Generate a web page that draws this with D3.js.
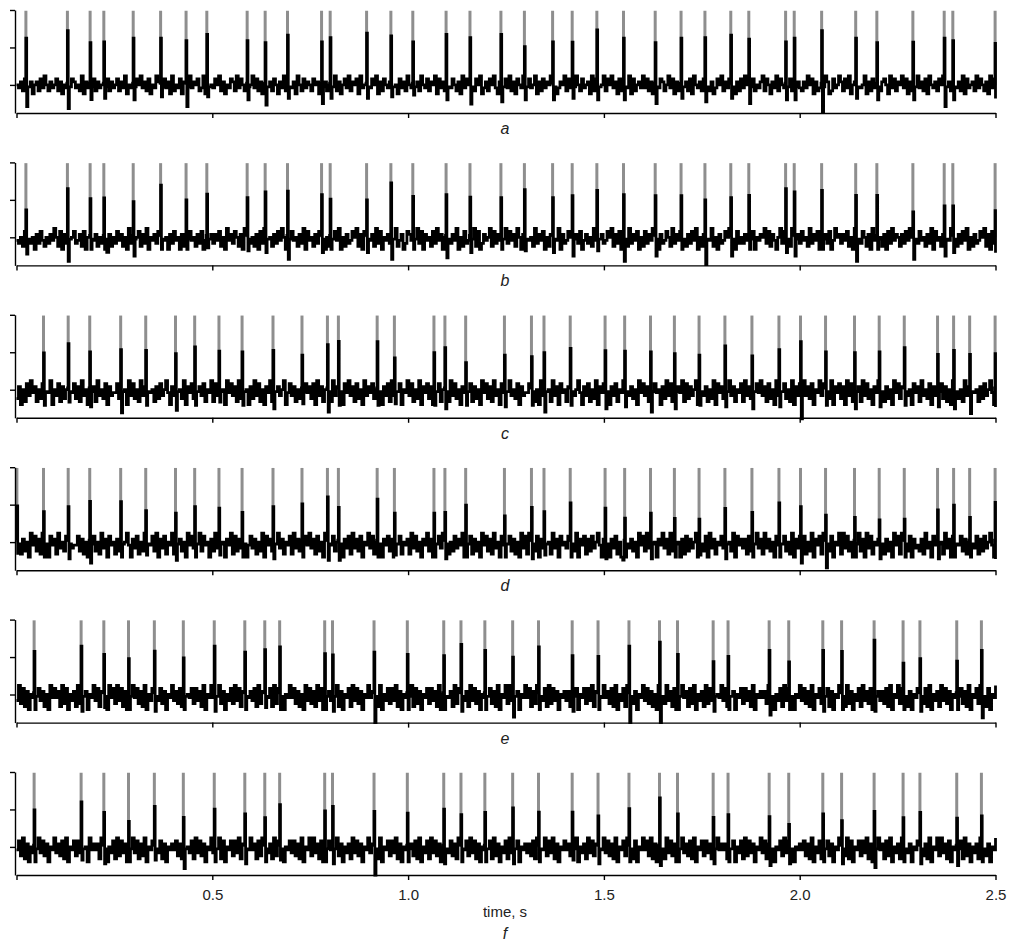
<!DOCTYPE html>
<html>
<head>
<meta charset="utf-8">
<script src="https://cdn.jsdelivr.net/npm/d3@7"></script>
<style>
  body { margin: 0; background: #fff; }
  text { font-family: "Liberation Sans", Arial, sans-serif; }
</style>
</head>
<body>
<div id="chart"></div>
<script>
// x axis ticks (seconds) and their labels, only the bottom panel shows labels
const tickValues = [0, 0.5, 1.0, 1.5, 2.0, 2.5];
const tickLabels = ["", "0.5", "1.0", "1.5", "2.0", "2.5"];
const yTicks = [0, 1, 2];
const panelLetters = ["a", "b", "c", "d", "e", "f"];

// spike times (s); a/b share them, c/d share them, e/f share them
const spikeTimesAB = [0.024, 0.130, 0.188, 0.223, 0.298, 0.368, 0.433, 0.486, 0.589, 0.635,
  0.692, 0.779, 0.801, 0.894, 0.956, 1.012, 1.097, 1.158, 1.237, 1.297,
  1.369, 1.419, 1.482, 1.550, 1.631, 1.697, 1.758, 1.824, 1.870, 1.964,
  1.986, 2.056, 2.143, 2.197, 2.289, 2.369, 2.391, 2.499];
const spikeTimesC = [0.069, 0.132, 0.187, 0.266, 0.330, 0.406, 0.455, 0.517, 0.576, 0.655,
  0.729, 0.794, 0.822, 0.921, 0.965, 1.066, 1.094, 1.147, 1.246, 1.315,
  1.347, 1.414, 1.503, 1.553, 1.619, 1.680, 1.743, 1.809, 1.878, 1.947,
  2.002, 2.066, 2.140, 2.203, 2.267, 2.352, 2.393, 2.434, 2.499];
const spikeTimesD = [0.001, 0.069, 0.132, 0.187, 0.266, 0.330, 0.406, 0.455, 0.517, 0.576, 0.655,
  0.729, 0.794, 0.822, 0.921, 0.965, 1.066, 1.094, 1.147, 1.246, 1.315,
  1.347, 1.414, 1.503, 1.553, 1.619, 1.680, 1.743, 1.809, 1.878, 1.947,
  2.002, 2.066, 2.140, 2.203, 2.267, 2.352, 2.393, 2.434, 2.499];
const spikeTimesEF = [0.045, 0.165, 0.223, 0.286, 0.352, 0.426, 0.505, 0.583, 0.634, 0.672,
  0.787, 0.807, 0.913, 0.998, 1.091, 1.135, 1.196, 1.267, 1.333, 1.419,
  1.485, 1.564, 1.642, 1.688, 1.779, 1.817, 1.922, 1.972, 2.059, 2.107,
  2.190, 2.264, 2.307, 2.401, 2.464];

// height reached by the black (filtered) spike, in tick units
const peakA = [1.25, 1.45, 1.13, 1.15, 1.25, 1.25, 1.18, 1.35, 1.18, 1.13,
  1.33, 1.15, 1.26, 1.38, 1.31, 1.15, 1.35, 1.26, 1.35, 1.02,
  1.15, 1.14, 1.47, 1.25, 1.13, 1.25, 1.26, 1.33, 1.22, 1.15,
  1.25, 1.45, 1.25, 1.13, 1.14, 1.25, 1.18, 1.11];
const peakB = [0.73, 1.30, 1.03, 1.05, 0.95, 1.39, 1.00, 1.15, 1.06, 1.21,
  1.23, 1.14, 1.02, 1.00, 1.45, 1.09, 1.14, 1.07, 1.06, 1.27,
  1.06, 1.11, 1.25, 1.14, 1.11, 1.11, 1.00, 1.06, 1.12, 1.30,
  1.21, 1.25, 1.12, 1.12, 0.68, 0.84, 0.84, 0.71];
const peakC = [0.98, 1.23, 1.01, 1.07, 1.05, 0.96, 1.14, 1.03, 1.01, 1.05,
  0.92, 1.20, 1.29, 1.28, 0.85, 0.99, 1.12, 0.72, 0.92, 0.88,
  0.99, 1.10, 1.04, 1.03, 1.01, 0.96, 0.92, 1.17, 0.90, 1.07,
  1.28, 1.01, 0.99, 1.01, 1.12, 0.94, 1.05, 0.94, 0.96];
const peakD = [0.97, 0.81, 0.95, 1.09, 1.08, 0.84, 0.77, 0.95, 0.91, 0.79, 0.95,
  1.02, 1.21, 0.93, 1.15, 0.77, 0.77, 0.79, 0.99, 0.70, 0.93,
  0.81, 1.05, 0.91, 0.64, 0.77, 0.63, 0.61, 0.90, 0.79, 1.05,
  0.95, 0.72, 0.66, 0.59, 0.61, 0.86, 0.99, 0.66, 1.06];
const peakE = [1.15, 1.29, 1.07, 0.96, 1.16, 0.98, 1.29, 1.13, 1.20, 1.27,
  1.09, 1.06, 1.13, 1.07, 1.04, 1.34, 1.18, 1.00, 1.27, 1.04,
  1.02, 1.29, 1.40, 1.07, 0.88, 1.02, 1.18, 0.87, 1.18, 1.15,
  1.45, 0.84, 0.96, 0.89, 1.18];
const peakF = [0.99, 1.20, 0.92, 0.68, 1.08, 0.79, 1.01, 0.88, 0.78, 1.13,
  0.96, 1.08, 0.95, 0.90, 1.01, 0.86, 0.92, 1.04, 0.93, 0.93,
  0.83, 1.02, 1.31, 0.88, 0.79, 0.86, 0.81, 0.60, 0.88, 0.70,
  0.95, 0.78, 0.92, 0.77, 0.83];

// undershoot right after each spike
const troughA = [-0.58, -0.63, -0.39, -0.36, -0.40, -0.32, -0.58, -0.32, -0.40, -0.54,
  -0.36, -0.50, -0.36, -0.36, -0.32, -0.27, -0.40, -0.51, -0.45, -0.40,
  -0.40, -0.36, -0.40, -0.40, -0.50, -0.36, -0.45, -0.36, -0.50, -0.40,
  -0.40, -0.72, -0.36, -0.40, -0.40, -0.58, -0.40, -0.36];
const troughB = [-0.45, -0.64, -0.32, -0.32, -0.50, -0.32, -0.32, -0.28, -0.36, -0.41,
  -0.59, -0.41, -0.32, -0.41, -0.59, -0.32, -0.55, -0.41, -0.32, -0.36,
  -0.41, -0.50, -0.36, -0.64, -0.50, -0.32, -0.73, -0.50, -0.32, -0.41,
  -0.50, -0.32, -0.64, -0.32, -0.59, -0.50, -0.41, -0.41];
const troughC = [-0.42, -0.33, -0.46, -0.62, -0.42, -0.55, -0.42, -0.33, -0.42, -0.51,
  -0.38, -0.60, -0.42, -0.42, -0.38, -0.42, -0.51, -0.42, -0.46, -0.42,
  -0.60, -0.42, -0.51, -0.46, -0.60, -0.51, -0.42, -0.46, -0.51, -0.46,
  -0.78, -0.42, -0.51, -0.46, -0.42, -0.46, -0.51, -0.64, -0.46];
const troughD = [-0.30, -0.40, -0.45, -0.56, -0.40, -0.35, -0.49, -0.40, -0.35, -0.40, -0.45,
  -0.40, -0.49, -0.49, -0.40, -0.35, -0.40, -0.45, -0.40, -0.40, -0.45,
  -0.35, -0.40, -0.45, -0.40, -0.45, -0.40, -0.35, -0.45, -0.40, -0.40,
  -0.56, -0.69, -0.40, -0.45, -0.40, -0.45, -0.40, -0.40, -0.45];
const troughE = [-0.40, -0.45, -0.35, -0.40, -0.45, -0.40, -0.45, -0.40, -0.35, -0.40,
  -0.40, -0.45, -0.75, -0.40, -0.40, -0.45, -0.40, -0.60, -0.40, -0.45,
  -0.40, -0.75, -0.75, -0.40, -0.45, -0.40, -0.55, -0.40, -0.45, -0.40,
  -0.45, -0.40, -0.45, -0.40, -0.62];
const troughF = [-0.40, -0.35, -0.45, -0.40, -0.35, -0.58, -0.40, -0.45, -0.40, -0.35,
  -0.40, -0.45, -0.75, -0.40, -0.45, -0.40, -0.40, -0.45, -0.40, -0.35,
  -0.45, -0.40, -0.50, -0.40, -0.45, -0.40, -0.50, -0.45, -0.40, -0.45,
  -0.55, -0.40, -0.45, -0.50, -0.40];

// background noise, one digit every ~5 ms; level = (digit - 6) * noiseUnit
const noiseUnit = 0.08;
const noiseA = `
6574865736 7485964756 8473659487 5649375868 4756938475
6847593657 4869574836 5974685739 4658376495 7684593746
5869473658 7495864736 9584736597 4863759486 5739648576
4867395746 8594736859 4768395647 5869374865 7946385749
6583749658 4769385746 9586473958 6474869357 4869537468
5947386597 4856937485 7694835769 4857396485 6739485769
4869573846 7593846759 5847396587 4695837469 5748396574
8694735869 4758693748 5967384657 9486375948 6573849675
4759683745 8697348569 7485936748 5693748569 4786395847
6958374869 5748396574 8695374865 7493856749 5864739586`;
const noiseB = `
5463857462 7485364759 6382745968 4573826495 7364851736
4857362947 5683749265 7483956274 8562739485 6374825967
4758362957 4863729584 6372849576 3748596274 8563749285
6374859263 7485926374 5869372846 5739482657 4869357248
7563948275 6384957263 8475926384 5769382475 6938475269
4857396274 8563947582 6374859274 5869374825 7463958274
5869374825 6394758263 8475936274 5863947582 6374859263
7485936274 5869372846 4759382657 6948375269 4857396274
8563947582 6374825967 4758362957 4863729584 6372849576
3748596274 8563749285 6374859263 7485926374 5869372846`;
const noiseC = `
3716284957 2638475916 4827361958 3729461857 2946381745
5837261948 3629471856 2738469517 4826391758 3917482659
2847361958 4729385617 3948261759 2837469158 4726391857
3819472658 2947361859 4728361947 5836291748 2947381659
4826391758 3719482657 2948361759 4827361958 3729461857
2946381745 5837261948 3629471856 2738469517 4826391758
3917482659 2847361958 4729385617 3948261759 2837469158
4726391857 3819472658 2947361859 4728361947 5836291748
2947381659 4826391758 3719482657 2948361759 4827361958
3729461857 2946381745 5837261948 3629471856 2738469517`;
const noiseD = `
4827361958 3729461857 2946381745 5837261948 3629471856
2738469517 4826391758 3917482659 2847361958 4729385617
3948261759 2837469158 4726391857 3819472658 2947361859
4728361947 5836291748 2947381659 4826391758 3719482657
2948361759 3716284957 2638475916 4827361958 3729461857
5837261948 2946381745 3629471856 4826391758 2738469517
3917482610 2847361958 3948261759 4729385617 2837469158
3819472658 4726391857 4728361947 2947361859 5836291748
4826391758 2947381659 2948361759 3719482657 4827361958
2946381745 3729461857 3629471856 5837261948 2738469517`;
const noiseE = `
4938271659 3847261958 5729381647 2938471659 4827361958
3948271659 5837291648 2948371659 4738291658 3847291659
5829371648 3948271657 4829371658 2938471659 5837261948
3729481657 4839271658 2948371659 5738291648 3849271657
4928371658 3847291659 5729381647 2948371658 4837291659
3948271659 5827391648 2938471657 4729381658 3849271659
5738291648 2948371659 4837261958 3947281659 5728391647
2938471659 4829371658 3847291657 5739281648 2948371659
4837291658 3948271659 5829371648 2947381657 4738291659
3849271658 5738291647 2948371659 4837291658 3947281659`;
const noiseF = `
5839271648 2948371659 4738291658 3847261957 5729381648
2938471659 4827391658 3948271657 5837291648 2948371659
4739281658 3849271659 5728391647 2938471658 4837291659
3947281658 5829371647 2948371659 4738291658 3849271657
5738291648 2948371659 4837291658 3948271659 5829371648
2947381657 4738291659 3849271658 5738291647 2948371659
4837291658 3947281659 5839271648 2948371659 4738291658
3847261957 5729381648 2938471659 4827391658 3948271657
5837291648 2948371659 4739281658 3849271659 5728391647
2938471658 4837291659 3947281658 5829371647 2948371659`;

const panels = [
  { times: spikeTimesAB, peaks: peakA, troughs: troughA, noise: noiseA },
  { times: spikeTimesAB, peaks: peakB, troughs: troughB, noise: noiseB },
  { times: spikeTimesC, peaks: peakC, troughs: troughC, noise: noiseC },
  { times: spikeTimesD, peaks: peakD, troughs: troughD, noise: noiseD },
  { times: spikeTimesEF, peaks: peakE, troughs: troughE, noise: noiseE },
  { times: spikeTimesEF, peaks: peakF, troughs: troughF, noise: noiseF }
];

const width = 1013, height = 941;
const panelTop = 10, panelStep = 152.4, panelH = 103;

const svg = d3.select("#chart").append("svg")
  .attr("width", width)
  .attr("height", height)
  .attr("viewBox", `0 0 ${width} ${height}`);

const x = d3.scaleLinear().domain([0, 2.5]).range([16.5, 995.5]);

panels.forEach((p, i) => {
  const top = panelTop + i * panelStep;
  const y = d3.scaleLinear().domain([-0.75, 2]).range([top + panelH, top]);
  const g = svg.append("g");

  // gray unfiltered spikes, clipped at the top tick
  g.selectAll(".gspike")
    .data(p.times)
    .enter().append("line")
    .attr("class", "gspike")
    .attr("x1", d => x(d)).attr("x2", d => x(d))
    .attr("y1", y(0)).attr("y2", y(1.98))
    .attr("stroke", "#8e8e8e")
    .attr("stroke-width", 3);

  // black trace: noise samples plus the spike shapes
  const vals = p.noise.replace(/\s/g, "").split("").map(Number);
  const dt = 2.5 / (vals.length - 1);
  let pts = vals.map((d, k) => [k * dt, (d - 6) * noiseUnit]);
  pts = pts.filter(q => !p.times.some(ts => q[0] > ts - 0.003 && q[0] < ts + 0.007));
  p.times.forEach((ts, k) => {
    pts.push([ts - 0.0015, 0.05], [ts, p.peaks[k]], [ts + 0.002, p.troughs[k]], [ts + 0.005, -0.05]);
  });
  pts.forEach(q => { q[0] = Math.max(0, Math.min(2.5, q[0])); });
  pts.sort((a, b) => a[0] - b[0]);

  const line = d3.line().x(d => x(d[0])).y(d => y(d[1])).curve(d3.curveStepAfter);
  g.append("path")
    .datum(pts)
    .attr("d", line)
    .attr("fill", "none")
    .attr("stroke", "#000")
    .attr("stroke-width", 2.8);

  // left axis
  const yAxis = g.append("g")
    .attr("transform", `translate(15,0)`)
    .call(d3.axisLeft(y).tickValues(yTicks).tickSize(5).tickSizeOuter(0).tickFormat(""));
  yAxis.selectAll("path, line").attr("stroke", "#000").attr("stroke-width", 1.4);

  // bottom axis
  const last = i === panels.length - 1;
  const xAxis = g.append("g")
    .attr("transform", `translate(0,${top + panelH})`)
    .call(d3.axisBottom(x).tickValues(tickValues).tickSize(5).tickSizeOuter(0).tickPadding(9)
      .tickFormat((d, k) => last ? tickLabels[k] : ""));
  xAxis.selectAll("path, line").attr("stroke", "#000").attr("stroke-width", 1.4);
  xAxis.selectAll("text").attr("font-size", 15).attr("fill", "#222")
    .attr("font-family", "'Liberation Sans', Arial, sans-serif");

  if (last) {
    svg.append("text")
      .attr("x", 505).attr("y", top + panelH + 42)
      .attr("text-anchor", "middle")
      .attr("font-size", 15).attr("fill", "#222")
      .text("time, s");
  }
  svg.append("text")
    .attr("x", 505).attr("y", top + panelH + (last ? 64 : 21))
    .attr("text-anchor", "middle")
    .attr("font-size", 16).attr("font-style", "italic").attr("fill", "#222")
    .text(panelLetters[i]);
});
</script>
</body>
</html>
